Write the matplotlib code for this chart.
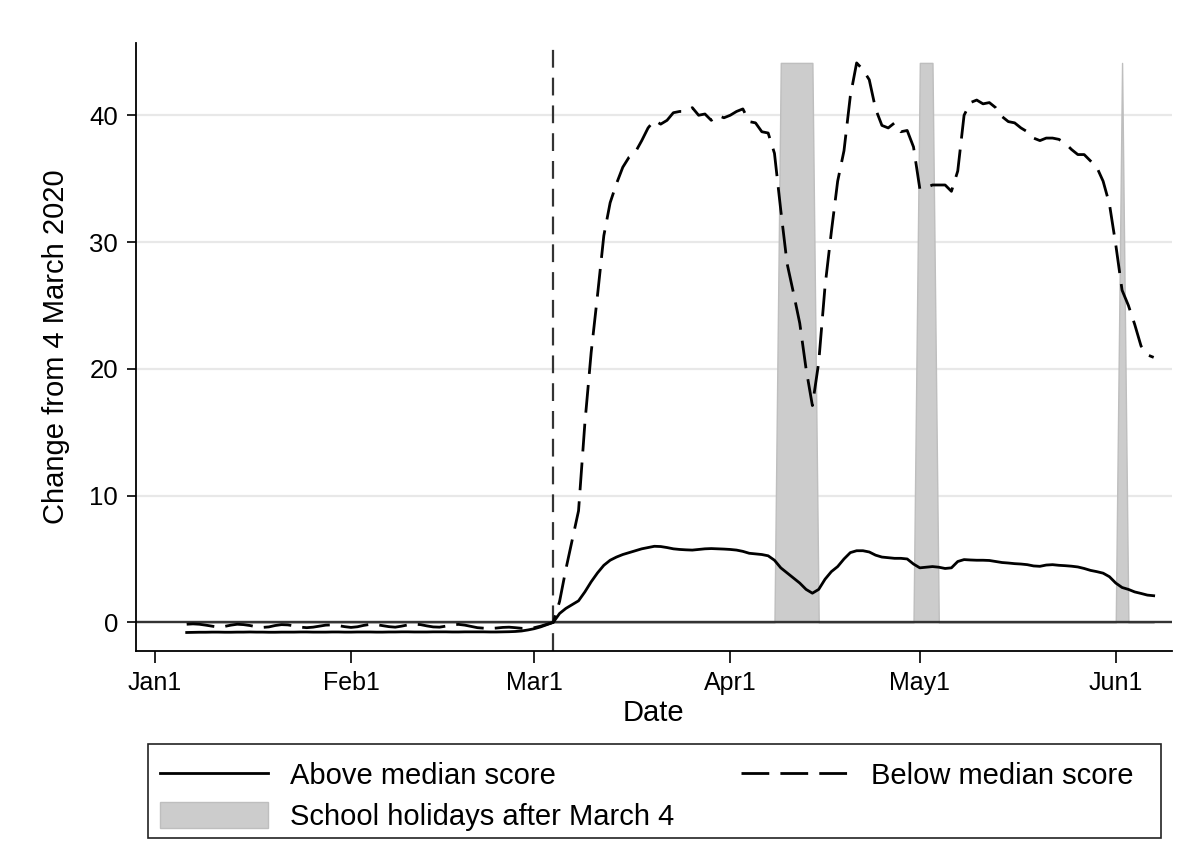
import numpy as np
import pandas as pd
import matplotlib.pyplot as plt
from matplotlib.patches import Patch, Rectangle
from matplotlib.lines import Line2D

plt.rcParams['font.family'] = ['Liberation Sans', 'DejaVu Sans']

# -----------------------------
# Data
# -----------------------------
start_day = "2020-01-06"
end_day = "2020-06-07"
event_day = "2020-03-04"

# daily change, above median score (Jan 6 .. Jun 7)
above_median = [
    -0.80, -0.79, -0.78, -0.78, -0.77, -0.77, -0.78, -0.78, -0.77, -0.77,
    -0.76, -0.77, -0.77, -0.78, -0.78, -0.77, -0.77, -0.77, -0.76, -0.76,
    -0.77, -0.77, -0.77, -0.76, -0.76, -0.77, -0.77, -0.76, -0.76, -0.76,
    -0.77, -0.77, -0.76, -0.76, -0.75, -0.75, -0.76, -0.76, -0.76, -0.75,
    -0.75, -0.75, -0.76, -0.76, -0.75, -0.75, -0.75, -0.75, -0.76, -0.76,
    -0.75, -0.74, -0.72, -0.68, -0.60, -0.50, -0.36, -0.18,
    0.00, 0.70, 1.10, 1.40, 1.70, 2.40, 3.20, 3.90, 4.50, 4.90,
    5.15, 5.35, 5.50, 5.65, 5.80, 5.90, 6.00, 5.98, 5.90, 5.80,
    5.75, 5.72, 5.70, 5.75, 5.80, 5.82, 5.80, 5.78, 5.75, 5.70,
    5.60, 5.45, 5.40, 5.35, 5.25, 4.90, 4.30, 3.90, 3.50, 3.10,
    2.60, 2.30, 2.60, 3.40, 4.00, 4.40, 5.00, 5.50, 5.65, 5.65,
    5.55, 5.30, 5.15, 5.10, 5.05, 5.05, 5.00, 4.60, 4.30, 4.35,
    4.40, 4.35, 4.25, 4.30, 4.80, 4.95, 4.92, 4.90, 4.90, 4.88,
    4.80, 4.72, 4.68, 4.63, 4.60, 4.55, 4.45, 4.42, 4.52, 4.55,
    4.50, 4.47, 4.43, 4.37, 4.25, 4.10, 4.00, 3.88, 3.60, 3.10,
    2.75, 2.60, 2.40, 2.28, 2.15, 2.10,
]

# daily change, below median score (Jan 6 .. Jun 7)
below_median = [
    -0.15, -0.12, -0.15, -0.22, -0.30, -0.38, -0.32, -0.22, -0.15, -0.18,
    -0.25, -0.35, -0.40, -0.36, -0.25, -0.18, -0.20, -0.28, -0.38, -0.42,
    -0.38, -0.30, -0.22, -0.20, -0.26, -0.34, -0.40, -0.35, -0.24, -0.16,
    -0.18, -0.26, -0.34, -0.38, -0.30, -0.20, -0.14, -0.18, -0.28, -0.36,
    -0.38, -0.30, -0.20, -0.16, -0.22, -0.32, -0.42, -0.46, -0.48, -0.45,
    -0.40, -0.38, -0.42, -0.47, -0.48, -0.42, -0.30, -0.15,
    0.00, 1.65, 4.20, 6.50, 8.80, 15.70, 21.30, 25.80, 30.50, 33.10,
    34.60, 35.90, 36.70, 37.10, 38.00, 39.00, 39.60, 39.30, 39.60, 40.20,
    40.30, 40.30, 40.60, 40.00, 40.10, 39.60, 40.00, 39.80, 40.00, 40.30,
    40.50, 39.50, 39.40, 38.70, 38.60, 37.00, 32.50, 28.30, 26.00, 23.60,
    20.00, 17.10, 20.50, 26.50, 30.80, 34.80, 37.20, 41.50, 44.13, 43.60,
    42.80, 40.50, 39.20, 39.00, 39.40, 38.70, 38.80, 37.50, 34.20, 34.30,
    34.50, 34.50, 34.50, 34.00, 35.60, 40.00, 41.00, 41.20, 40.90, 41.00,
    40.60, 39.90, 39.50, 39.40, 39.00, 38.70, 38.20, 38.00, 38.20, 38.20,
    38.10, 37.80, 37.30, 36.90, 36.90, 36.40, 35.90, 34.80, 33.00, 29.80,
    26.20, 25.00, 23.50, 21.80, 21.10, 20.90,
]

holiday_days = [
    "2020-04-09", "2020-04-10", "2020-04-11", "2020-04-12", "2020-04-13", "2020-04-14",
    "2020-05-01", "2020-05-02", "2020-05-03",
    "2020-06-02",
]

month_ticks = ["2020-01-01", "2020-02-01", "2020-03-01", "2020-04-01", "2020-05-01", "2020-06-01"]
month_labels = ["Jan1", "Feb1", "Mar1", "Apr1", "May1", "Jun1"]
y_ticks = [0, 10, 20, 30, 40]

# -----------------------------
# Frame
# -----------------------------
dates = pd.date_range(start_day, end_day, freq="D")
holiday_height = max(below_median)
holiday_area = np.where(dates.isin(pd.to_datetime(holiday_days)), holiday_height, 0.0)

W, H = 1191, 842
fig = plt.figure(figsize=(W / 100, H / 100), dpi=100)
ax = fig.add_axes([135.5 / W, 1 - 651 / H, (1172 - 135.5) / W, (651 - 43) / H])

shade = "#cccccc"
ax.fill_between(dates, 0, holiday_area, color=shade, edgecolor="#bebebe", lw=1.0, zorder=1)

for y in y_ticks:
    ax.axhline(y, color="#e8e8e8", lw=1.6, zorder=0)
ax.axhline(0, color="#333333", lw=1.7, zorder=2)
ax.axvline(pd.Timestamp(event_day), color="#333333", lw=1.6,
           linestyle=(0, (8, 4.5)), zorder=2)

dash = (0, (10, 4))
ax.plot(dates, above_median, color="black", lw=2.0, zorder=3)
ax.plot(dates, below_median, color="black", lw=2.0, linestyle=dash, zorder=3)

t0 = pd.Timestamp("2020-01-01")
ax.set_xlim(t0 - pd.Timedelta(days=3.1), t0 + pd.Timedelta(days=160.9))
ax.set_ylim(-2.26, 45.7)

ax.set_xticks(pd.to_datetime(month_ticks))
ax.set_xticklabels(month_labels, fontsize=18)
ax.set_yticks(y_ticks)
ax.set_yticklabels([str(v) for v in y_ticks], fontsize=18.5)
ax.tick_params(axis="x", length=8.5, width=1.2, pad=6)
ax.tick_params(axis="y", length=6.5, width=1.2, pad=6)

for s in ["top", "right"]:
    ax.spines[s].set_visible(False)
for s in ["left", "bottom"]:
    ax.spines[s].set_linewidth(1.3)

ax.set_xlabel("Date", fontsize=21, labelpad=3)
ax.set_ylabel("Change from 4 March 2020", fontsize=21, labelpad=14)

# -----------------------------
# Legend below the plot
# -----------------------------
fig.patches.append(Rectangle((148 / W, 1 - 838 / H), (1161 - 148) / W, (838 - 744) / H,
                             transform=fig.transFigure, fill=False, edgecolor="#222222", lw=1.2))
handles = [
    Line2D([], [], color="black", lw=2.0),
    Patch(facecolor=shade, edgecolor="#bebebe"),
    Line2D([], [], color="black", lw=2.0, linestyle=dash),
]
labels = ["Above median score", "School holidays after March 4", "Below median score"]
fig.legend(handles, labels, ncol=2, loc="upper left", bbox_to_anchor=(160 / W, 1 - 761 / H),
           frameon=False, fontsize=21, borderpad=0, borderaxespad=0,
           handlelength=3.7, handleheight=1.0, handletextpad=0.75,
           columnspacing=2.3, labelspacing=0.42)

fig.savefig("out.png", dpi=100)
